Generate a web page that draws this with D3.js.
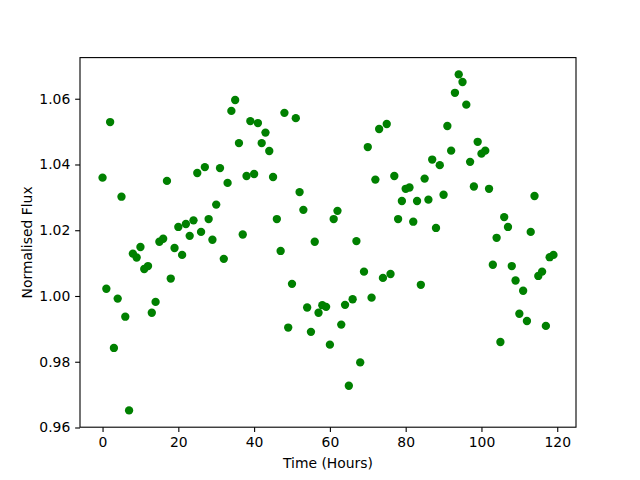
<!DOCTYPE html>
<html>
<head>
<meta charset="utf-8">
<script src="https://cdn.jsdelivr.net/npm/d3@7/dist/d3.min.js"></script>
<style>
  html, body { margin: 0; padding: 0; background: #fff; }
  svg { display: block; }
  text { font-family: "DejaVu Sans", sans-serif; }
</style>
</head>
<body>
<svg id="chart" width="640" height="480"></svg>
<script>
// Data: time (hours) and normalised flux
const hours = d3.range(0, 120);
const flux = [
  1.0360, 1.0022, 1.0529, 0.9842, 0.9992, 1.0302, 0.9937, 0.9652, 1.0129, 1.0117,
  1.0149, 1.0082, 1.0091, 0.9949, 0.9982, 1.0165, 1.0174, 1.0350, 1.0053, 1.0146,
  1.0210, 1.0125, 1.0219, 1.0183, 1.0230, 1.0374, 1.0195, 1.0392, 1.0234, 1.0171,
  1.0278, 1.0389, 1.0113, 1.0344, 1.0563, 1.0596, 1.0465, 1.0187, 1.0365, 1.0532,
  1.0371, 1.0526, 1.0465, 1.0497, 1.0441, 1.0362, 1.0234, 1.0137, 1.0557, 0.9904,
  1.0037, 1.0541, 1.0316, 1.0262, 0.9965, 0.9891, 1.0165, 0.9949, 0.9972, 0.9967,
  0.9852, 1.0234, 1.0259, 0.9913, 0.9973, 0.9727, 0.9990, 1.0167, 0.9798, 1.0074,
  1.0453, 0.9995, 1.0354, 1.0508, 1.0055, 1.0523, 1.0067, 1.0365, 1.0234, 1.0289,
  1.0326, 1.0330, 1.0226, 1.0289, 1.0034, 1.0357, 1.0293, 1.0415, 1.0207, 1.0398,
  1.0308, 1.0517, 1.0442, 1.0618, 1.0674, 1.0651, 1.0582, 1.0408, 1.0333, 1.0469,
  1.0433, 1.0442, 1.0326, 1.0095, 1.0177, 0.9860, 1.0240, 1.0210, 1.0091, 1.0047,
  0.9946, 1.0016, 0.9924, 1.0195, 1.0304, 1.0061, 1.0074, 0.9909, 1.0118, 1.0125
];
const xTicks = [0, 20, 40, 60, 80, 100, 120];
const yTicks = [0.96, 0.98, 1.00, 1.02, 1.04, 1.06];
const xLabel = "Time (Hours)";
const yLabel = "Normalised Flux";

const W = 640, H = 480;
const mLeft = 80, mRight = 576, mTop = 57.6, mBottom = 427.2;
const pw = mRight - mLeft, ph = mBottom - mTop;

const svg = d3.select("#chart");
const g = svg.append("g").attr("transform", `translate(${mLeft},${mTop})`);

const xMin = d3.min(hours), xMax = d3.max(hours);
const xPad = (xMax - xMin) * 0.05;
const x = d3.scaleLinear().domain([xMin - xPad, xMax + xPad]).range([0, pw]);
const yMin = d3.min(flux), yMax = d3.max(flux);
const yPad = (yMax - yMin) * 0.05;
const y = d3.scaleLinear().domain([yMin - yPad, yMax + yPad]).range([ph, 0]);

const tickLen = 4.86, tickPad = 4.86, fs = 13.9;

// Points
g.append("g").selectAll("circle")
  .data(hours.map((h, i) => ({h, f: flux[i]})))
  .join("circle")
  .attr("cx", d => x(d.h))
  .attr("cy", d => y(d.f))
  .attr("r", 4.17)
  .attr("fill", "#008000");

// Axes
const xAxis = g.append("g")
  .attr("transform", `translate(0,${ph})`)
  .call(d3.axisBottom(x).tickValues(xTicks).tickFormat(d3.format("d"))
        .tickSize(tickLen).tickPadding(tickPad).tickSizeOuter(0));
const yAxis = g.append("g")
  .call(d3.axisLeft(y).tickValues(yTicks).tickFormat(d3.format(".2f"))
        .tickSize(tickLen).tickPadding(tickPad).tickSizeOuter(0));
[xAxis, yAxis].forEach(a => {
  a.select(".domain").remove();
  a.selectAll(".tick line").attr("stroke", "#000").attr("stroke-width", 1.1);
  a.selectAll(".tick text").attr("fill", "#000")
    .style("font-family", '"DejaVu Sans", sans-serif').style("font-size", fs + "px");
});

// Frame
g.append("rect").attr("x", 0).attr("y", 0).attr("width", pw).attr("height", ph)
  .attr("fill", "none").attr("stroke", "#000").attr("stroke-width", 1.1);

// Axis labels
svg.append("text")
  .attr("x", mLeft + pw / 2).attr("y", 468)
  .attr("text-anchor", "middle").style("font-size", fs + "px")
  .text(xLabel);
svg.append("text")
  .attr("transform", `translate(32,${mTop + ph / 2}) rotate(-90)`)
  .attr("text-anchor", "middle").style("font-size", fs + "px")
  .text(yLabel);
</script>
</body>
</html>
